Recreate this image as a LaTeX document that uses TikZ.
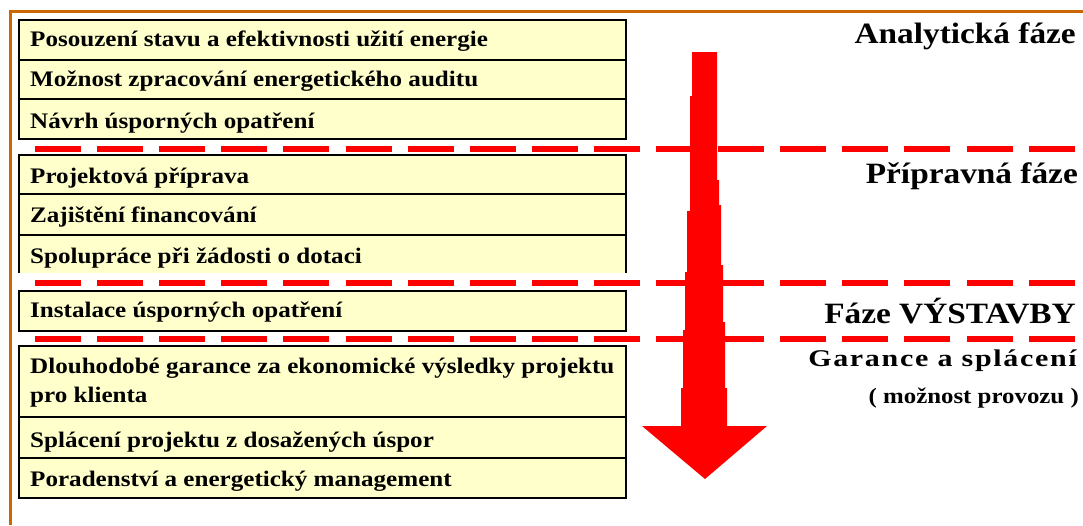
\documentclass[tikz,border=0pt]{standalone}
\usepackage{fontspec}
\setmainfont{Liberation Serif}
\newfontfamily\boxfont{Liberation Serif}[FakeStretch=1.13]
\newfontfamily\garfont{Liberation Serif}[FakeStretch=1.25,LetterSpace=7]
\definecolor{frameorange}{RGB}{204,102,0}
\definecolor{boxyellow}{RGB}{255,255,204}
\definecolor{arrowred}{RGB}{255,0,0}
\tikzset{
  boxfill/.style={fill=boxyellow},
  boxline/.style={draw=black,line width=2pt},
  reddash/.style={draw=arrowred,line width=6pt,dash pattern=on 46pt off 16.1pt},
  itemtext/.style={anchor=base west,inner sep=0pt,font=\boxfont\bfseries\fontsize{22.2}{29}\selectfont,align=left},
  phasetext/.style={anchor=base east,inner sep=0pt,font=\boxfont\bfseries\fontsize{29.5}{32}\selectfont},
}
\begin{document}
\begin{tikzpicture}[x=1pt,y=-1pt]
\useasboundingbox (0,0) rectangle (1083,525);
\fill[white] (0,0) rectangle (1083,525);
% orange frame
\draw[frameorange,line width=3.4pt] (10.3,525) -- (10.3,11.6) -- (1083,11.6);
% group 1
\fill[boxfill] (19.2,20) rectangle (626,139);
\draw[boxline] (19.2,20) rectangle (626,139);
\draw[boxline] (19.2,60) -- (626,60);
\draw[boxline] (19.2,99) -- (626,99);
% group 2
\fill[boxfill] (19.2,155) rectangle (626,273);
\draw[boxline] (19.2,273) -- (19.2,155) -- (626,155) -- (626,273);
\draw[boxline] (19.2,194) -- (626,194);
\draw[boxline] (19.2,235) -- (626,235);
% group 3
\fill[boxfill] (19.2,291) rectangle (626,331);
\draw[boxline] (19.2,291) rectangle (626,331);
% group 4
\fill[boxfill] (19.2,346) rectangle (626,498);
\draw[boxline] (19.2,346) rectangle (626,498);
\draw[boxline] (19.2,417) -- (626,417);
\draw[boxline] (19.2,458) -- (626,458);
% arrow
\fill[arrowred] (692,52) -- (717,52) -- (717,180) -- (719,180) -- (719,205) -- (721,205)
  -- (721,265) -- (723,265) -- (723,322) -- (725,322) -- (725,388) -- (727,388)
  -- (727,426) -- (767,426) -- (705,479) -- (642,426) -- (681,426) -- (681,388)
  -- (683,388) -- (683,330) -- (685,330) -- (685,272) -- (687,272) -- (687,211)
  -- (690,211) -- (690,96) -- (692,96) -- cycle;
% dashed separators
\draw[reddash] (35,148.6) -- (1076,148.6);
\draw[reddash] (35,283) -- (1076,283);
\draw[reddash] (35,339) -- (1076,339);
% item texts
\node[itemtext] (t1) at (30,46) {Posouzení stavu a efektivnosti užití energie};
\node[itemtext] (t2) at (30,86) {Možnost zpracování energetického auditu};
\node[itemtext] (t3) at (30,128) {Návrh úsporných opatření};
\node[itemtext] (t4) at (30,183) {Projektová příprava};
\node[itemtext] (t5) at (30,222) {Zajištění financování};
\node[itemtext] (t6) at (30,263) {Spolupráce při žádosti o dotaci};
\node[itemtext] (t7) at (30,317) {Instalace úsporných opatření};
\node[itemtext] (t8) at (30,373) {Dlouhodobé garance za ekonomické výsledky projektu};
\node[itemtext] (t8b) at (30,402) {pro klienta};
\node[itemtext] (t9) at (30,447) {Splácení projektu z dosažených úspor};
\node[itemtext] (t10) at (30,486) {Poradenství a energetický management};
% phase labels
\node[phasetext] (p1) at (1076,43) {Analytická fáze};
\node[phasetext] (p2) at (1078,183) {Přípravná fáze};
\node[phasetext] (p3) at (1076,323) {Fáze VÝSTAVBY};
\node[anchor=base east,inner sep=0pt,font=\garfont\bfseries\fontsize{24}{26}\selectfont] (p4) at (1077,366) {Garance a splácení};
\node[anchor=base east,inner sep=0pt,font=\boxfont\bfseries\fontsize{22}{26}\selectfont] (p4b) at (1079,403) {( možnost provozu )};
\end{tikzpicture}
\end{document}
